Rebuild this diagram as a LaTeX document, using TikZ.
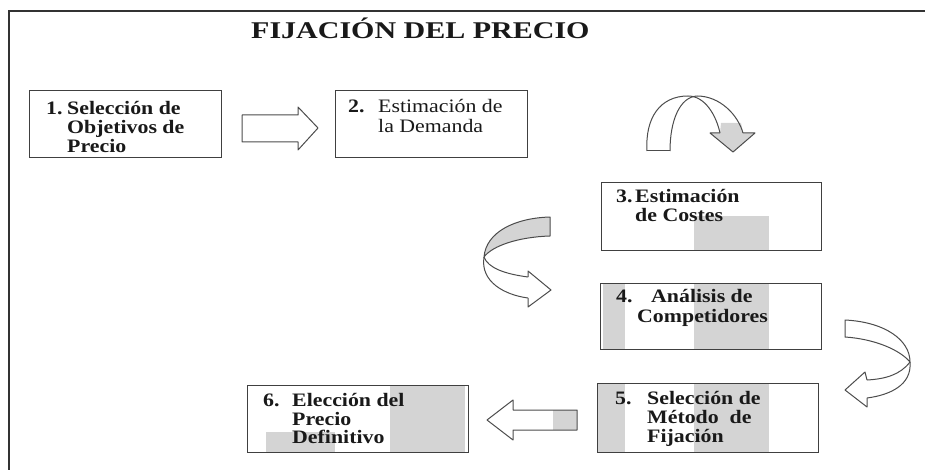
\documentclass[tikz,border=0pt]{standalone}
\usepackage{fontspec}
\setmainfont{Liberation Serif}
\newfontfamily\boxfont{Liberation Serif}[FakeStretch=1.15]
\newfontfamily\titlefont{Liberation Serif}[FakeStretch=1.25]
\begin{document}
\begin{tikzpicture}[x=1pt,y=-1pt,
  stepbox/.style={draw=black!75, line width=1.2pt, inner sep=0pt, anchor=north west},
  bar/.style={fill=black!17, draw=none},
  shape line/.style={draw=black!70, line width=1pt, line join=round},
  txt/.style={anchor=base west, inner sep=0pt, text=black!90, font=\boxfont\fontsize{19}{19}\selectfont\bfseries},
  txtr/.style={anchor=base west, inner sep=0pt, text=black!90, font=\boxfont\fontsize{19}{19}\selectfont}]
\useasboundingbox (0,0) rectangle (925,470);
% frame
\draw[black!80, line width=1.2pt] (9,470) -- (9,11) -- (925,11);
% title
\node[anchor=base west, inner sep=0pt, text=black!90, font=\titlefont\fontsize{24}{24}\selectfont\bfseries] (title) at (251,39) {FIJACIÓN DEL PRECIO};

% gray bars behind boxes
\fill[bar] (694,216) rectangle (769,250);
\fill[bar] (603,283) rectangle (625,349);
\fill[bar] (694,283) rectangle (769,349);
\fill[bar] (598,383) rectangle (625,452);
\fill[bar] (694,383) rectangle (769,452);
\fill[bar] (390,385) rectangle (465,452);
\fill[bar] (266,432) rectangle (335,452);

% boxes
\node[stepbox, minimum width=192pt, minimum height=67pt] (b1) at (29,90) {};
\node[stepbox, minimum width=192pt, minimum height=67pt] (b2) at (335,90) {};
\node[stepbox, minimum width=220pt, minimum height=68pt] (b3) at (601,182) {};
\node[stepbox, minimum width=221pt, minimum height=66pt] (b4) at (600,283) {};
\node[stepbox, minimum width=221pt, minimum height=69pt] (b5) at (597,383) {};
\node[stepbox, minimum width=221pt, minimum height=67pt] (b6) at (247,385) {};

% texts
\node[txt] (t1n) at (46,115) {1.};
\node[txt] (t1a) at (67,115) {Selección de};
\node[txt] (t1b) at (67,134) {Objetivos de};
\node[txt] (t1c) at (67,153) {Precio};

\node[txt] (t2n) at (348,113) {2.};
\node[txtr] (t2a) at (378,113) {Estimación de};
\node[txtr] (t2b) at (378,133) {la Demanda};

\node[txt] (t3n) at (616,203) {3.};
\node[txt] (t3a) at (635,203) {Estimación};
\node[txt] (t3b) at (635,222) {de Costes};

\node[txt] (t4n) at (616,302) {4.};
\node[txt] (t4a) at (651,302) {Análisis de};
\node[txt] (t4b) at (637,322) {Competidores};

\node[txt] (t5n) at (615,404) {5.};
\node[txt] (t5a) at (647,404) {Selección de};
\node[txt] (t5b) at (647,423) {Método\ \ de};
\node[txt] (t5c) at (647,442) {Fijación};

\node[txt] (t6n) at (263,406) {6.};
\node[txt] (t6a) at (292,406) {Elección del};
\node[txt] (t6b) at (292,425) {Precio};
\node[txt] (t6c) at (292,443) {Definitivo};

% arrow 1 -> 2
\draw[shape line, fill=white] (242,115) -- (298,115) -- (298,107) -- (318,128) -- (298,150) -- (298,142) -- (242,142) -- cycle;

% arrow 2 -> 3 (curved over)
\fill[black!17] (721,123) -- (741,123) -- (743,133) -- (755,133) -- (733,152) -- (710,133) -- (720,133) -- cycle;
\draw[shape line] (647,151) .. controls (645,118) and (660,96) .. (688,96) .. controls (705,96) and (716,115) .. (720,133);
\draw[shape line] (670,151) .. controls (670,120) and (680,97) .. (697,96) .. controls (720,96) and (738,115) .. (743,133);
\draw[shape line] (647,151) -- (670,151);
\draw[shape line] (720,133) -- (710,133) -- (733,152) -- (755,133) -- (743,133);

% arrow 3 -> 4
\draw[shape line, fill=black!17] (550,217) .. controls (515,218) and (486,232) .. (484,257) .. controls (492,246) and (518,237) .. (550,236) -- cycle;
\draw[shape line] (484,257) .. controls (488,268) and (505,274) .. (528,277);
\draw[shape line] (484,257) .. controls (480,282) and (505,295) .. (528,298);
\draw[shape line] (528,277) -- (528,271) -- (551,290) -- (528,307) -- (528,298);

% arrow 4 -> 5
\draw[shape line, fill=white] (845,320) .. controls (885,322) and (910,340) .. (910,362) .. controls (900,350) and (875,339) .. (845,337) -- cycle;
\draw[shape line] (910,362) .. controls (900,375) and (885,379) .. (867,380);
\draw[shape line] (910,362) .. controls (912,385) and (890,395) .. (867,398);
\draw[shape line] (867,380) -- (865,372) -- (845,390) -- (867,407) -- (867,398);

% arrow 5 -> 6
\fill[black!17] (553,410) rectangle (577,430);
\draw[shape line] (577,410) -- (513,410) -- (513,400) -- (487,420) -- (513,440) -- (513,430) -- (577,430) -- cycle;
\end{tikzpicture}
\end{document}
